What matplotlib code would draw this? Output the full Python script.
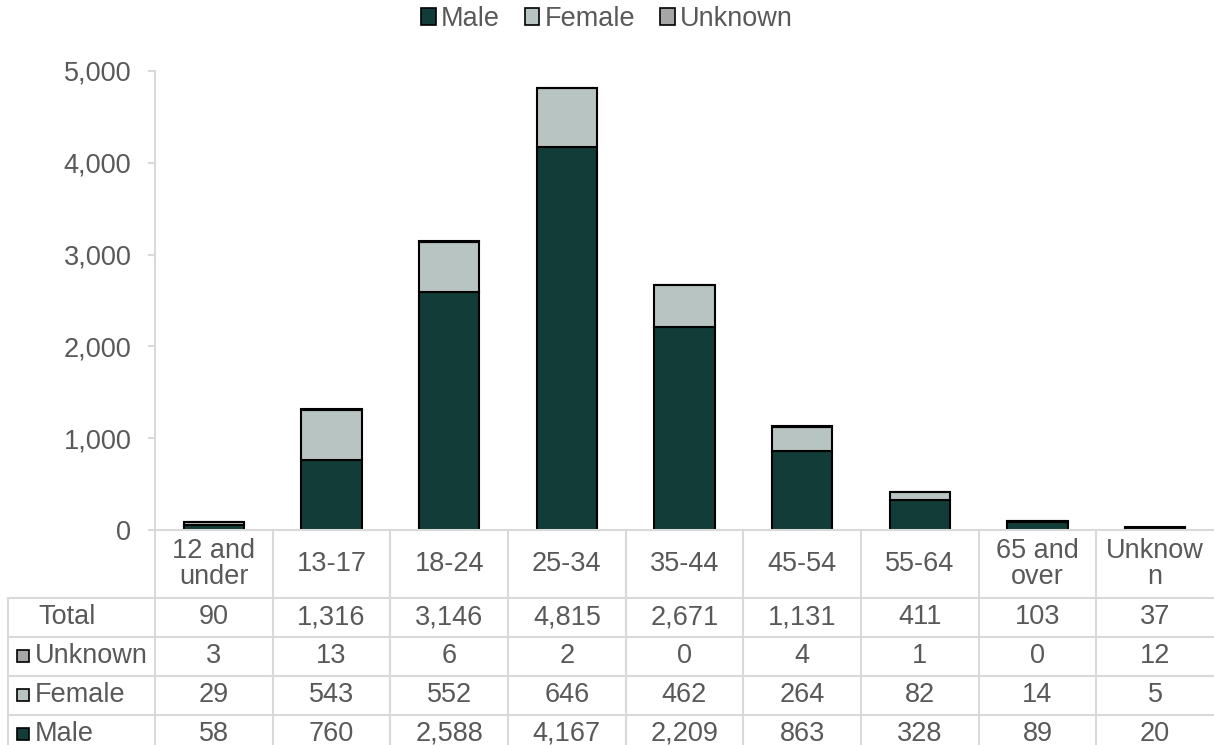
import matplotlib
matplotlib.use("Agg")
import matplotlib.pyplot as plt
from matplotlib.patches import Patch, Rectangle
from matplotlib.transforms import blended_transform_factory

plt.rcParams['font.family'] = ['Liberation Sans', 'DejaVu Sans']

# data
age_groups = ["12 and\nunder", "13-17", "18-24", "25-34", "35-44",
              "45-54", "55-64", "65 and\nover", "Unknow\nn"]
male = [58, 760, 2588, 4167, 2209, 863, 328, 89, 20]
female = [29, 543, 552, 646, 462, 264, 82, 14, 5]
unknown = [3, 13, 6, 2, 0, 4, 1, 0, 12]
totals = [90, 1316, 3146, 4815, 2671, 1131, 411, 103, 37]
yticks = [0, 1000, 2000, 3000, 4000, 5000]

c_male = "#123c37"
c_female = "#b8c4c2"
c_unknown = "#a6a6a6"
txt = "#595959"
grid = "#d9d9d9"
fs = 19.5

W, H = 1214, 745
fig = plt.figure(figsize=(W / 100, H / 100), dpi=100)
ax = fig.add_axes([155 / W, 1 - 530 / H, (1214 - 155) / W, (530 - 71) / H])

x = list(range(len(age_groups)))
bw = 0.51
ax.bar(x, male, bw, color=c_male, edgecolor="black", linewidth=1.5, label="Male")
ax.bar(x, female, bw, bottom=male, color=c_female, edgecolor="black", linewidth=1.5, label="Female")
bot2 = [m + f for m, f in zip(male, female)]
ax.bar(x, unknown, bw, bottom=bot2, color=c_unknown, edgecolor="black", linewidth=1.5, label="Unknown")

ax.set_xlim(-0.5, len(age_groups) - 0.5)
ax.set_ylim(0, 5000)
ax.set_yticks(yticks)
ax.set_yticklabels([f"{v:,}" for v in yticks], fontsize=fs, color=txt)
ax.tick_params(axis="y", length=5, color=grid, width=1.5, pad=12)
ax.set_xticks([])
for s in ["top", "right"]:
    ax.spines[s].set_visible(False)
ax.spines["left"].set_color(grid)
ax.spines["left"].set_linewidth(1.5)
ax.spines["bottom"].set_color(grid)
ax.spines["bottom"].set_linewidth(1.5)

# data table below the axis
tr = blended_transform_factory(ax.transData, fig.transFigure)
def fy(py):
    return 1 - py / H

row_lines = [598, 637, 676, 715]
for py in row_lines:
    fig.add_artist(plt.Line2D([8 / W, 1], [fy(py), fy(py)], color=grid, lw=1.5))
fig.add_artist(plt.Line2D([8 / W, 8 / W], [fy(598), fy(745)], color=grid, lw=1.5))
for i in range(len(age_groups)):
    xb = i - 0.5
    ax.plot([xb, xb], [fy(530), fy(745)], color=grid, lw=1.5, transform=tr, clip_on=False)

for i, lab in enumerate(age_groups):
    ax.text(i, fy(564), lab, transform=tr, ha="center", va="center",
            fontsize=fs, color=txt, linespacing=1.0)

rows = [("Total", None, totals, 617),
        ("Unknown", c_unknown, unknown, 656),
        ("Female", c_female, female, 695),
        ("Male", c_male, male, 734)]
for name, col, vals, py in rows:
    if col is None:
        fig.text(38 / W, fy(py), name, ha="left", va="center", fontsize=fs, color=txt)
    else:
        fig.add_artist(Rectangle((17 / W, fy(py + 6)), 12 / W, 12 / H, transform=fig.transFigure,
                                 facecolor=col, edgecolor="black", lw=1.2))
        fig.text(35 / W, fy(py), name, ha="left", va="center", fontsize=fs, color=txt)
    for i, v in enumerate(vals):
        ax.text(i, fy(py), f"{v:,}", transform=tr, ha="center", va="center",
                fontsize=fs, color=txt)

handles = [Patch(facecolor=c, edgecolor="black", lw=1.2) for c in (c_male, c_female, c_unknown)]
fig.legend(handles, ["Male", "Female", "Unknown"], loc="center", bbox_to_anchor=(0.5, fy(19)),
           ncol=3, frameon=False, fontsize=fs, labelcolor=txt, handlelength=0.55,
           handleheight=0.55, handletextpad=0.2, columnspacing=0.9, borderpad=0)

fig.savefig("out.png", dpi=100)
